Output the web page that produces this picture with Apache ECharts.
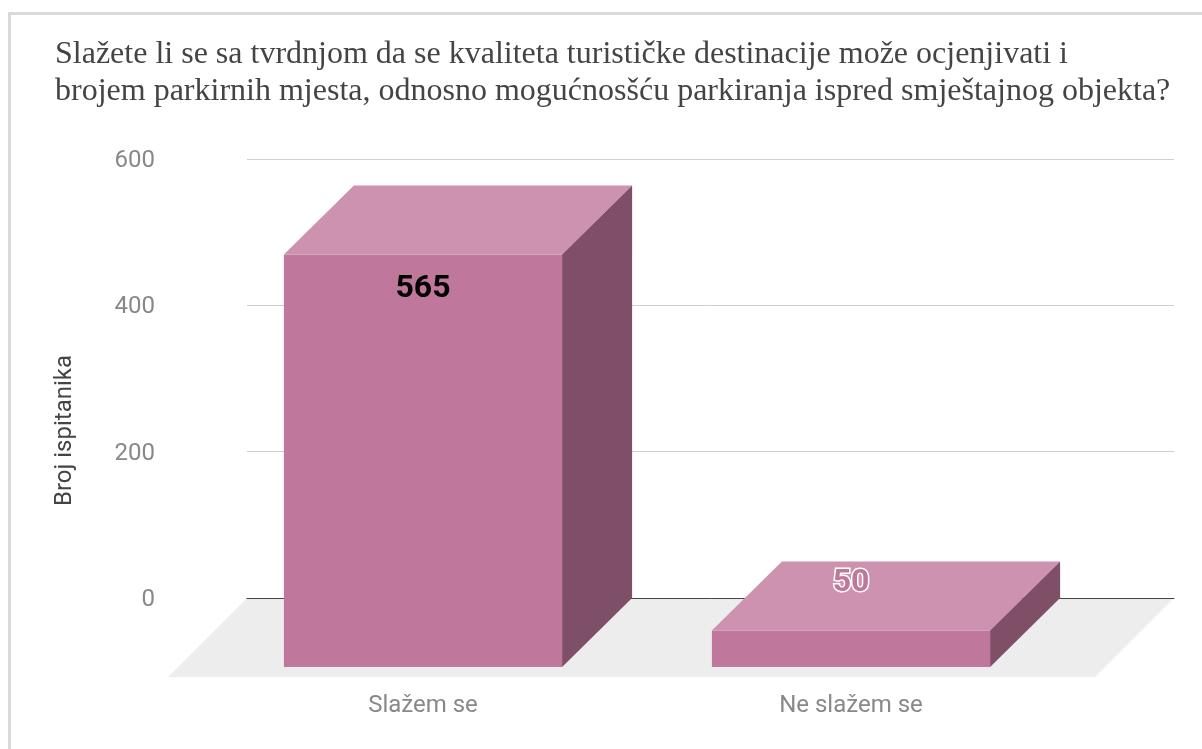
<!DOCTYPE html>
<html><head><meta charset="utf-8">
<style>html,body{margin:0;padding:0;background:#fff}#c{width:1202px;height:749px}</style>
<script src="https://cdn.jsdelivr.net/npm/echarts@6/dist/echarts.min.js"></script>
</head><body><div id="c"></div>
<script>
const titleLines = ['Slažete li se sa tvrdnjom da se kvaliteta turističke destinacije može ocjenjivati i',
  'brojem parkirnih mjesta, odnosno mogućnosšću parkiranja ispred smještajnog objekta?'];
const categories = ['Slažem se', 'Ne slažem se'];
const values = [565, 50];
const yAxisName = 'Broj ispitanika';

const chart = echarts.init(document.getElementById('c'), null, {renderer:'canvas'});
const depthX = 70, depthY = 69;
const poly = (pts, fill) => ({type:'polygon', shape:{points:pts}, style:{fill}});
chart.setOption({
  animation:false,
  backgroundColor:'#fff',
  title:{text:titleLines.join('\n'), left:50, top:31,
    textStyle:{fontFamily:'Liberation Serif', fontSize:32, fontWeight:'normal', color:'#444', lineHeight:37}},
  graphic:[
    {type:'rect', shape:{x:8,y:12,width:1194,height:3}, style:{fill:'#d9d9d9'}},
    {type:'rect', shape:{x:8,y:12,width:3,height:737}, style:{fill:'#d9d9d9'}}
  ],
  grid:[
    {left:247, top:159, width:927, height:439},
    {left:209, top:229, width:856, height:438}
  ],
  xAxis:[
    {gridIndex:0, type:'value', min:0, max:1, z:3, axisLabel:{show:false}, axisTick:{show:false}, splitLine:{show:false},
      axisLine:{show:true, onZero:true, lineStyle:{color:'#444', width:1}}},
    {gridIndex:1, type:'category', data:categories, axisLine:{show:false}, axisTick:{show:false},
      axisLabel:{margin:27, fontFamily:'Roboto', fontSize:24, color:'#888'}}
  ],
  yAxis:[
    {gridIndex:0, type:'value', min:0, max:600, interval:200, axisLine:{show:false}, axisTick:{show:false},
      axisLabel:{margin:92, formatter:'{t|{value}}',
        rich:{t:{fontFamily:'Roboto', fontSize:24, color:'#888', padding:[4,0,0,0]}}},
      splitLine:{show:true, lineStyle:{color:'#cfcfcf', width:1}},
      name:yAxisName, nameLocation:'middle', nameGap:170,
      nameTextStyle:{fontFamily:'Roboto', fontSize:24, color:'#444', padding:[0,104,0,0]}},
    {gridIndex:1, type:'value', min:0, max:600, interval:200, show:false}
  ],
  series:[
    {type:'custom', xAxisIndex:0, yAxisIndex:0, z:1, silent:true, data:[[0,0]],
      renderItem:(p,api)=>{
        const a=api.coord([0,0]), b=api.coord([1,0]), s=79;
        return poly([a,b,[b[0]-s,b[1]+s],[a[0]-s,a[1]+s]],'#ededed');
      }},
    {type:'custom', xAxisIndex:1, yAxisIndex:1, z:5, silent:true,
      data:values.map((v,i)=>[i,v]),
      renderItem:(p,api)=>{
        const i=api.value(0), v=api.value(1);
        const top=api.coord([i,v]), base=api.coord([i,0]);
        const w=api.size([1,0])[0]*0.65;
        const l=top[0]-w/2, r=top[0]+w/2, t=top[1], b=base[1];
        const tall=(b-t)>100;
        return {type:'group', children:[
          poly([[l,t],[r,t],[r,b],[l,b]],'#bf779b'),
          poly([[l,t],[r,t],[r+depthX,t-depthY],[l+depthX,t-depthY]],'#cc92b0'),
          poly([[r,t],[r+depthX,t-depthY],[r+depthX,b-depthY],[r,b]],'#7f4f68'),
          {type:'text', z2:10, style:{text:String(v), x:top[0], y:tall?t+34:t-48, align:'center', verticalAlign:'middle',
            font:'bold 32px Roboto', fill:tall?'#000':'#bf779b', stroke:tall?null:'#fff', lineWidth:tall?0:3}}
        ]};
      }}
  ]
});
</script></body></html>
